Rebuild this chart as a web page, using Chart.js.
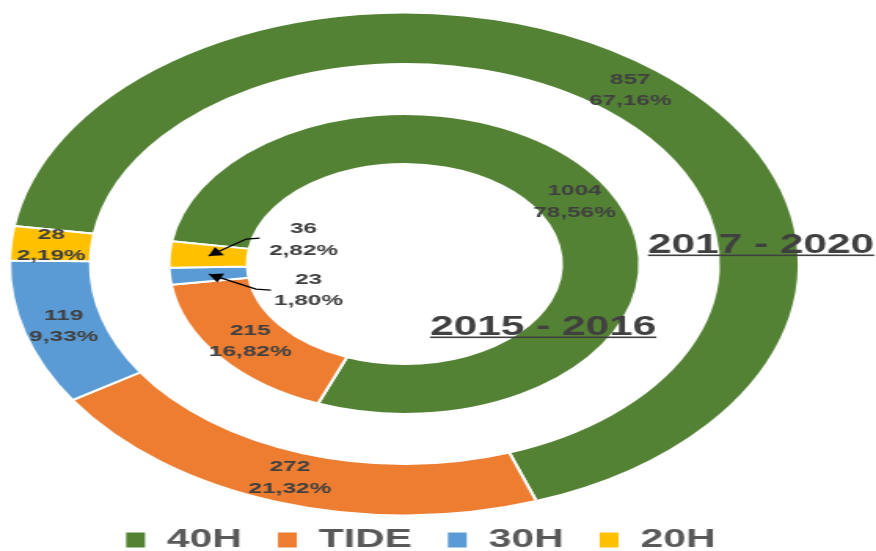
<!DOCTYPE html>
<html>
<head>
<meta charset="utf-8">
<title>Doughnut 2015-2016 / 2017-2020</title>
<script src="https://cdn.jsdelivr.net/npm/chart.js@4.4.1/dist/chart.umd.min.js"></script>
<style>
  html, body { margin: 0; padding: 0; background: #fff; overflow: hidden; }
  /* the reference is stretched horizontally, so the whole canvas is too */
  #wrap { position: absolute; left: 0; top: 0; width: 558px; height: 551px; transform: scaleX(1.5699); transform-origin: 0 0; }
</style>
</head>
<body>
<div id="wrap"><canvas id="donut"></canvas></div>
<script>
// data
const categories = ['40H', 'TIDE', '30H', '20H'];
const seriesNames = ['2017 - 2020', '2015 - 2016'];
const values2017to2020 = [857, 272, 119, 28];
const values2015to2016 = [1004, 215, 23, 36];
const colors = ['#548235', '#ED7D31', '#5B9BD5', '#FFC000'];

const FONT = '"Liberation Sans", Arial, sans-serif';
const TEXT_COLOR = '#404040';
const SHIFT_X = -9.9; // rings sit a little left of the legend centre

// small slices get their label outside with an arrow (dataset index - slice index)
const callouts = {
  '2-3': { dx: 60.5, dy: -16.5, end: [32.5, -18], elbow: [24, -17] },
  '2-2': { dx: 63.5, dy: 16, end: [39.5, 16], elbow: [30, 15] }
};

const pct = (v, total) => (v / total * 100).toFixed(2).replace('.', ',') + '%';

function drawArrow(ctx, pts) {
  ctx.beginPath();
  ctx.moveTo(pts[0][0], pts[0][1]);
  for (let i = 1; i < pts.length; i++) ctx.lineTo(pts[i][0], pts[i][1]);
  ctx.stroke();
  const [tx, ty] = pts[pts.length - 1];
  const [px, py] = pts[pts.length - 2];
  const a = Math.atan2(ty - py, tx - px);
  const len = 8.5, half = 5;
  ctx.beginPath();
  ctx.moveTo(tx, ty);
  ctx.lineTo(tx - len * Math.cos(a) + half * Math.sin(a), ty - len * Math.sin(a) - half * Math.cos(a));
  ctx.lineTo(tx - len * Math.cos(a) - half * Math.sin(a), ty - len * Math.sin(a) + half * Math.cos(a));
  ctx.closePath();
  ctx.fill();
}

const labelsPlugin = {
  id: 'ringLabels',
  beforeDatasetsDraw(chart) {
    chart.ctx.save();
    chart.ctx.translate(SHIFT_X, 0);
  },
  afterDatasetsDraw(chart) {
    const ctx = chart.ctx;
    ctx.font = 'bold 15.5px ' + FONT;
    ctx.fillStyle = TEXT_COLOR;
    ctx.strokeStyle = '#000';
    ctx.lineWidth = 1.3;
    ctx.textAlign = 'center';
    ctx.textBaseline = 'middle';

    [0, 2].forEach(di => {
      const data = chart.data.datasets[di].data;
      const total = data.reduce((a, b) => a + b, 0);
      chart.getDatasetMeta(di).data.forEach((arc, i) => {
        const p = arc.tooltipPosition();
        const lines = [String(data[i]), pct(data[i], total)];
        const c = callouts[di + '-' + i];
        let x = p.x, y = p.y;
        if (c) {
          ctx.fillStyle = '#000';
          drawArrow(ctx, [[p.x + c.end[0], p.y + c.end[1]], [p.x + c.elbow[0], p.y + c.elbow[1]], [p.x, p.y]]);
          ctx.fillStyle = TEXT_COLOR;
          x = p.x + c.dx;
          y = p.y + c.dy;
        }
        ctx.fillText(lines[0], x, y - 10.7);
        ctx.fillText(lines[1], x, y + 10.7);
      });
    });
    ctx.restore();

    // ring titles, underlined
    ctx.save();
    ctx.font = 'bold 27px ' + FONT;
    ctx.fillStyle = TEXT_COLOR;
    ctx.textAlign = 'left';
    ctx.textBaseline = 'alphabetic';
    [[seriesNames[0], 412.7, 253], [seriesNames[1], 273.9, 335]].forEach(([t, x, y]) => {
      ctx.fillText(t, x, y);
      ctx.fillRect(x, y + 1.5, ctx.measureText(t).width, 1.6);
    });
    ctx.restore();
  }
};

new Chart(document.getElementById('donut'), {
  type: 'doughnut',
  data: {
    labels: categories,
    datasets: [
      { label: seriesNames[0], data: values2017to2020, backgroundColor: colors, borderColor: '#fff', borderWidth: 2, weight: 1.03 },
      { label: 'gap', data: [1], backgroundColor: 'rgba(0,0,0,0)', borderWidth: 0, weight: 1 },
      { label: seriesNames[1], data: values2015to2016, backgroundColor: colors, borderColor: '#fff', borderWidth: 2, weight: 1 }
    ]
  },
  options: {
    responsive: true,
    maintainAspectRatio: false,
    animation: false,
    events: [],
    rotation: 278.7,
    radius: '104.79%',
    cutout: '39.76%',
    layout: { padding: { top: 23, bottom: 0, left: 0, right: 23 } },
    plugins: {
      tooltip: { enabled: false },
      legend: {
        position: 'bottom',
        maxHeight: 46,
        labels: {
          font: { family: FONT, size: 26, weight: 'bold' },
          color: '#595959',
          boxWidth: 14,
          boxHeight: 17,
          padding: 22
        }
      }
    }
  },
  plugins: [labelsPlugin]
});
</script>
</body>
</html>
